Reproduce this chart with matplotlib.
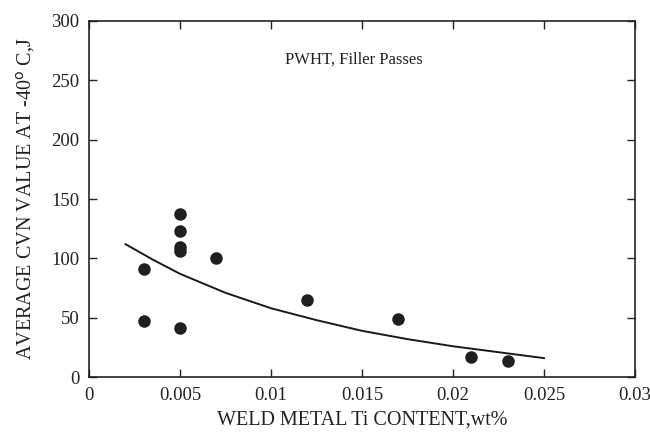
import matplotlib.pyplot as plt

# measured points
ti_content = [0.003, 0.003, 0.005, 0.005, 0.005, 0.005, 0.005, 0.007, 0.012, 0.017, 0.021, 0.023]
cvn_value = [91, 47, 137, 123, 110, 106, 41, 100, 65, 49, 17, 14]

# fitted curve
curve_x = [0.002, 0.0035, 0.005, 0.0075, 0.01, 0.0125, 0.015, 0.0175, 0.02, 0.0225, 0.025]
curve_y = [112, 99, 87, 71, 58, 48, 39, 32, 26, 21, 16]

x_ticks = [0, 0.005, 0.01, 0.015, 0.02, 0.025, 0.03]
x_tick_labels = ['0', '0.005', '0.01', '0.015', '0.02', '0.025', '0.03']
y_ticks = [0, 50, 100, 150, 200, 250, 300]

plt.rcParams['font.family'] = 'serif'
plt.rcParams['font.serif'] = ['Liberation Serif', 'DejaVu Serif']

fig = plt.figure(figsize=(6.5, 4.36), dpi=100, facecolor='white')
ax = fig.add_axes([0.137, 0.135, 0.840, 0.817])

ax.plot(curve_x, curve_y, color='#1a1a1a', linewidth=1.4)
ax.plot(ti_content, cvn_value, linestyle='none', marker='o', markersize=8,
        color='#1f1f1f')

ax.set_xlim(0, 0.03)
ax.set_ylim(0, 300)
ax.set_xticks(x_ticks)
ax.set_xticklabels(x_tick_labels)
ax.set_yticks(y_ticks)
ax.tick_params(direction='in', length=6, width=1, labelsize=13.5, top=True, right=True,
               colors='#222222', pad=7)
for side in ax.spines.values():
    side.set_linewidth(1.2)
    side.set_color('#222222')

ax.text(0.01453, 267, 'PWHT, Filler Passes', fontsize=12, ha='center', va='center',
        color='#222222')

ax.set_xlabel('WELD METAL Ti CONTENT,wt%', fontsize=14.5, color='#222222', labelpad=5)
ax.set_ylabel('AVERAGE CVN VALUE AT -40$^{\\rm o}$ C,J', fontsize=14.5, color='#222222',
              labelpad=10)

fig.savefig('out.png', dpi=100, facecolor='white')
plt.close(fig)
